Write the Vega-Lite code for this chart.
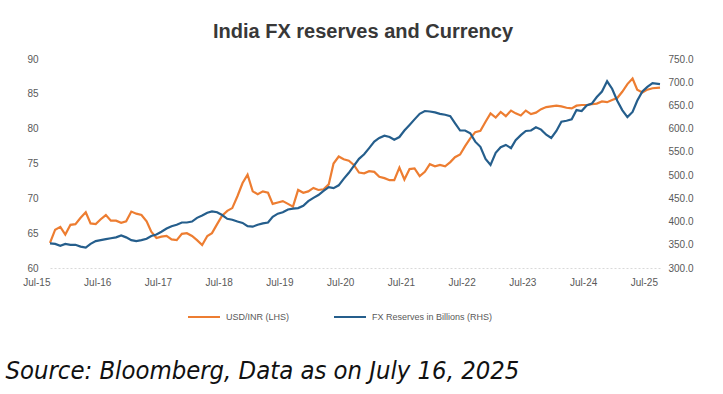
{
  "$schema": "https://vega.github.io/schema/vega-lite/v6.json",
  "width": 610,
  "height": 209,
  "autosize": {"type": "none"},
  "padding": {"left": 50, "top": 59, "right": 63, "bottom": 126},
  "background": "white",
  "title": {"text": "India FX reserves and Currency", "anchor": "middle", "fontSize": 20, "font": "Liberation Sans", "fontWeight": "bold", "color": "#383838", "offset": 12, "dx": 8},
  "data": {"values": [
    {"date":"2015-07-01","usdinr":63.6,"fx":353},{"date":"2015-08-01","usdinr":65.5,"fx":352},{"date":"2015-09-01","usdinr":65.9,"fx":348},{"date":"2015-10-01","usdinr":64.8,"fx":352},{"date":"2015-11-01","usdinr":66.2,"fx":350},{"date":"2015-12-01","usdinr":66.3,"fx":350},
    {"date":"2016-01-01","usdinr":67.2,"fx":346},{"date":"2016-02-01","usdinr":68.0,"fx":344},{"date":"2016-03-01","usdinr":66.4,"fx":352},{"date":"2016-04-01","usdinr":66.3,"fx":358},{"date":"2016-05-01","usdinr":67.0,"fx":360},{"date":"2016-06-01","usdinr":67.6,"fx":362},{"date":"2016-07-01","usdinr":66.8,"fx":364},{"date":"2016-08-01","usdinr":66.8,"fx":366},{"date":"2016-09-01","usdinr":66.5,"fx":370},{"date":"2016-10-01","usdinr":66.7,"fx":366},{"date":"2016-11-01","usdinr":68.1,"fx":360},{"date":"2016-12-01","usdinr":67.8,"fx":358},
    {"date":"2017-01-01","usdinr":67.6,"fx":360},{"date":"2017-02-01","usdinr":66.7,"fx":363},{"date":"2017-03-01","usdinr":65.2,"fx":369},{"date":"2017-04-01","usdinr":64.3,"fx":372},{"date":"2017-05-01","usdinr":64.5,"fx":378},{"date":"2017-06-01","usdinr":64.6,"fx":385},{"date":"2017-07-01","usdinr":64.1,"fx":390},{"date":"2017-08-01","usdinr":64.0,"fx":393},{"date":"2017-09-01","usdinr":64.9,"fx":398},{"date":"2017-10-01","usdinr":65.0,"fx":398},{"date":"2017-11-01","usdinr":64.6,"fx":400},{"date":"2017-12-01","usdinr":64.0,"fx":408},
    {"date":"2018-01-01","usdinr":63.3,"fx":413},{"date":"2018-02-01","usdinr":64.6,"fx":419},{"date":"2018-03-01","usdinr":65.0,"fx":422},{"date":"2018-04-01","usdinr":66.3,"fx":420},{"date":"2018-05-01","usdinr":67.5,"fx":414},{"date":"2018-06-01","usdinr":68.2,"fx":406},{"date":"2018-07-01","usdinr":68.6,"fx":404},{"date":"2018-08-01","usdinr":70.3,"fx":400},{"date":"2018-09-01","usdinr":72.2,"fx":397},{"date":"2018-10-01","usdinr":73.4,"fx":390},{"date":"2018-11-01","usdinr":71.0,"fx":389},{"date":"2018-12-01","usdinr":70.6,"fx":393},
    {"date":"2019-01-01","usdinr":71.0,"fx":396},{"date":"2019-02-01","usdinr":70.8,"fx":398},{"date":"2019-03-01","usdinr":69.2,"fx":410},{"date":"2019-04-01","usdinr":69.4,"fx":417},{"date":"2019-05-01","usdinr":69.6,"fx":420},{"date":"2019-06-01","usdinr":69.2,"fx":426},{"date":"2019-07-01","usdinr":68.8,"fx":428},{"date":"2019-08-01","usdinr":71.2,"fx":429},{"date":"2019-09-01","usdinr":70.8,"fx":434},{"date":"2019-10-01","usdinr":71.0,"fx":444},{"date":"2019-11-01","usdinr":71.5,"fx":451},{"date":"2019-12-01","usdinr":71.2,"fx":457},
    {"date":"2020-01-01","usdinr":71.3,"fx":466},{"date":"2020-02-01","usdinr":72.0,"fx":474},{"date":"2020-03-01","usdinr":75.0,"fx":472},{"date":"2020-04-01","usdinr":76.0,"fx":478},{"date":"2020-05-01","usdinr":75.6,"fx":492},{"date":"2020-06-01","usdinr":75.4,"fx":505},{"date":"2020-07-01","usdinr":74.8,"fx":520},{"date":"2020-08-01","usdinr":73.7,"fx":535},{"date":"2020-09-01","usdinr":73.6,"fx":545},{"date":"2020-10-01","usdinr":73.9,"fx":558},{"date":"2020-11-01","usdinr":73.8,"fx":572},{"date":"2020-12-01","usdinr":73.1,"fx":580},
    {"date":"2021-01-01","usdinr":72.9,"fx":585},{"date":"2021-02-01","usdinr":72.6,"fx":582},{"date":"2021-03-01","usdinr":72.6,"fx":576},{"date":"2021-04-01","usdinr":74.4,"fx":582},{"date":"2021-05-01","usdinr":72.7,"fx":596},{"date":"2021-06-01","usdinr":74.2,"fx":608},{"date":"2021-07-01","usdinr":74.3,"fx":620},{"date":"2021-08-01","usdinr":73.2,"fx":632},{"date":"2021-09-01","usdinr":73.8,"fx":638},{"date":"2021-10-01","usdinr":74.9,"fx":637},{"date":"2021-11-01","usdinr":74.6,"fx":635},{"date":"2021-12-01","usdinr":74.8,"fx":632},
    {"date":"2022-01-01","usdinr":74.6,"fx":630},{"date":"2022-02-01","usdinr":75.2,"fx":627},{"date":"2022-03-01","usdinr":75.9,"fx":612},{"date":"2022-04-01","usdinr":76.3,"fx":596},{"date":"2022-05-01","usdinr":77.5,"fx":596},{"date":"2022-06-01","usdinr":78.6,"fx":590},{"date":"2022-07-01","usdinr":79.5,"fx":572},{"date":"2022-08-01","usdinr":79.7,"fx":561},{"date":"2022-09-01","usdinr":81.0,"fx":535},{"date":"2022-10-01","usdinr":82.2,"fx":522},{"date":"2022-11-01","usdinr":81.6,"fx":548},{"date":"2022-12-01","usdinr":82.4,"fx":560},
    {"date":"2023-01-01","usdinr":81.8,"fx":565},{"date":"2023-02-01","usdinr":82.6,"fx":558},{"date":"2023-03-01","usdinr":82.2,"fx":575},{"date":"2023-04-01","usdinr":81.9,"fx":586},{"date":"2023-05-01","usdinr":82.6,"fx":595},{"date":"2023-06-01","usdinr":82.1,"fx":596},{"date":"2023-07-01","usdinr":82.3,"fx":603},{"date":"2023-08-01","usdinr":82.8,"fx":598},{"date":"2023-09-01","usdinr":83.1,"fx":587},{"date":"2023-10-01","usdinr":83.2,"fx":580},{"date":"2023-11-01","usdinr":83.3,"fx":595},{"date":"2023-12-01","usdinr":83.2,"fx":615},
    {"date":"2024-01-01","usdinr":83.0,"fx":617},{"date":"2024-02-01","usdinr":82.9,"fx":620},{"date":"2024-03-01","usdinr":83.3,"fx":640},{"date":"2024-04-01","usdinr":83.4,"fx":638},{"date":"2024-05-01","usdinr":83.4,"fx":650},{"date":"2024-06-01","usdinr":83.5,"fx":654},{"date":"2024-07-01","usdinr":83.6,"fx":668},{"date":"2024-08-01","usdinr":83.9,"fx":680},{"date":"2024-09-01","usdinr":83.8,"fx":702},{"date":"2024-10-01","usdinr":84.1,"fx":686},{"date":"2024-11-01","usdinr":84.4,"fx":660},{"date":"2024-12-01","usdinr":85.3,"fx":640},
    {"date":"2025-01-01","usdinr":86.4,"fx":625},{"date":"2025-02-01","usdinr":87.2,"fx":636},{"date":"2025-03-01","usdinr":85.6,"fx":660},{"date":"2025-04-01","usdinr":85.2,"fx":680},{"date":"2025-05-01","usdinr":85.6,"fx":690},{"date":"2025-06-01","usdinr":85.8,"fx":698},{"date":"2025-07-16","usdinr":85.9,"fx":696}
  ]},
  "encoding": {
    "x": {
      "field": "date", "type": "temporal",
      "scale": {"domain": [{"year": 2015, "month": 7, "date": 1}, {"year": 2025, "month": 7, "date": 16}]},
      "axis": {
        "values": [
          {"year": 2015, "month": 7, "date": 1}, {"year": 2016, "month": 7, "date": 1}, {"year": 2017, "month": 7, "date": 1},
          {"year": 2018, "month": 7, "date": 1}, {"year": 2019, "month": 7, "date": 1}, {"year": 2020, "month": 7, "date": 1},
          {"year": 2021, "month": 7, "date": 1}, {"year": 2022, "month": 7, "date": 1}, {"year": 2023, "month": 7, "date": 1},
          {"year": 2024, "month": 7, "date": 1}, {"year": 2025, "month": 7, "date": 1}
        ],
        "format": "%b-%y",
        "labelAlign": "right",
        "labelPadding": 9,
        "labelFontSize": 10,
        "labelFont": "Liberation Sans",
        "labelColor": "#595959",
        "ticks": false,
        "grid": false,
        "domainColor": "#d9d9d9",
        "domainDash": [2, 2],
        "title": "Source: Bloomberg, Data as on July 16, 2025",
        "titleFont": "Liberation Sans Narrow, DejaVu Sans Condensed, Roboto, sans-serif",
        "titleFontStyle": "italic",
        "titleFontWeight": "normal",
        "titleFontSize": 25.4,
        "titleColor": "#111111",
        "titleAnchor": "start",
        "titleAlign": "left",
        "titleBaseline": "alphabetic",
        "titleX": -45,
        "titleY": 110
      }
    }
  },
  "layer": [
    {
      "mark": {"type": "line", "strokeWidth": 2.2},
      "encoding": {
        "y": {
          "field": "usdinr", "type": "quantitative",
          "scale": {"domain": [60, 90], "nice": false, "zero": false},
          "axis": {"values": [60, 65, 70, 75, 80, 85, 90], "title": null, "ticks": false, "domain": false, "grid": false, "labelPadding": 12, "labelFontSize": 10, "labelFont": "Liberation Sans", "labelColor": "#595959"}
        },
        "color": {
          "datum": "USD/INR (LHS)", "type": "nominal",
          "scale": {"domain": ["USD/INR (LHS)", "FX Reserves in Billions (RHS)"], "range": ["#ED7D31", "#255E8C"]},
          "legend": {
            "orient": "none", "legendX": 137, "legendY": 241, "direction": "horizontal", "title": null,
            "symbolType": "stroke", "symbolSize": 1024, "symbolStrokeWidth": 2, "labelFontSize": 9, "labelFont": "Liberation Sans",
            "labelColor": "#595959", "labelOffset": 5, "columnPadding": 40
          }
        }
      }
    },
    {
      "mark": {"type": "line", "strokeWidth": 2.2},
      "encoding": {
        "y": {
          "field": "fx", "type": "quantitative",
          "scale": {"domain": [300, 750], "nice": false, "zero": false},
          "axis": {"orient": "right", "values": [300, 350, 400, 450, 500, 550, 600, 650, 700, 750], "format": ".1f", "title": null, "ticks": false, "domain": false, "grid": false, "labelPadding": 8, "labelFontSize": 10, "labelFont": "Liberation Sans", "labelColor": "#595959"}
        },
        "color": {"datum": "FX Reserves in Billions (RHS)", "type": "nominal"}
      }
    }
  ],
  "resolve": {"scale": {"y": "independent"}, "axis": {"y": "independent"}},
  "config": {"view": {"stroke": null}}
}
